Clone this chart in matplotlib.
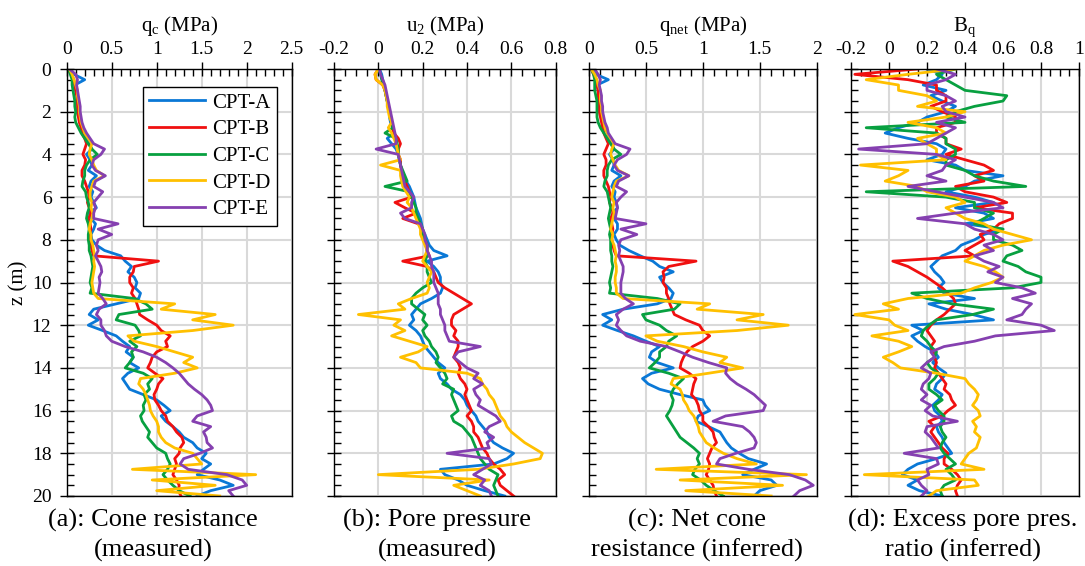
import matplotlib
matplotlib.use("Agg")
import matplotlib.pyplot as plt
from matplotlib.ticker import FixedLocator, MultipleLocator, FuncFormatter

plt.rcParams['font.family'] = ['Liberation Serif', 'DejaVu Serif']
plt.rcParams['mathtext.fontset'] = 'custom'
plt.rcParams['mathtext.rm'] = 'Liberation Serif'
plt.rcParams['mathtext.it'] = 'Liberation Serif:italic'
plt.rcParams['axes.unicode_minus'] = False

# depth of each reading (m), every 0.25 m
depth = [i * 0.25 for i in range(81)]

names = ['CPT-A', 'CPT-B', 'CPT-C', 'CPT-D', 'CPT-E']
colors = ['#0A78D6', '#F01010', '#08A040', '#FFC000', '#8540B0']

# (a) cone resistance qc (MPa), four readings per metre
qc_A = [0.02, 0.08, 0.20, 0.09, 0.10, 0.12, 0.11, 0.13, 0.12, 0.14, 0.15, 0.18, 0.20, 0.23, 0.25, 0.28,
        0.22, 0.26, 0.28, 0.24, 0.33, 0.27, 0.25, 0.29, 0.27, 0.30, 0.33, 0.25, 0.27, 0.32, 0.30, 0.27,
        0.28, 0.33, 0.42, 0.60, 0.65, 0.72, 0.68, 0.75, 0.78, 0.76, 0.82, 0.80, 0.55, 0.30, 0.25, 0.35,
        0.24, 0.40, 0.55, 0.62, 0.70, 0.66, 0.74, 0.70, 0.80, 0.68, 0.62, 0.66, 0.70, 0.85, 1.00, 1.08,
        1.15, 1.05, 1.10, 1.18, 1.25, 1.30, 1.40, 1.45, 1.55, 1.50, 1.60, 1.52, 1.45, 1.70, 1.85, 1.60,
        1.45]
qc_B = [0.02, 0.05, 0.08, 0.09, 0.10, 0.11, 0.12, 0.12, 0.12, 0.13, 0.14, 0.16, 0.17, 0.20, 0.22, 0.20,
        0.18, 0.21, 0.20, 0.17, 0.17, 0.20, 0.22, 0.24, 0.25, 0.23, 0.25, 0.27, 0.24, 0.26, 0.27, 0.25,
        0.26, 0.27, 0.28, 0.30, 1.02, 0.75, 0.74, 0.70, 0.70, 0.74, 0.72, 0.76, 0.78, 0.80, 0.81, 0.90,
        1.00, 1.05, 1.15, 1.10, 1.12, 1.00, 0.95, 0.93, 0.90, 0.98, 1.07, 1.02, 1.00, 0.97, 0.98, 1.02,
        1.05, 1.10, 1.12, 1.18, 1.22, 1.28, 1.30, 1.26, 1.25, 1.20, 1.22, 1.20, 1.18, 1.22, 1.25, 1.24,
        1.27]
qc_C = [0.02, 0.04, 0.06, 0.06, 0.07, 0.08, 0.09, 0.09, 0.10, 0.09, 0.10, 0.13, 0.16, 0.20, 0.24, 0.28,
        0.34, 0.26, 0.22, 0.20, 0.20, 0.18, 0.17, 0.21, 0.22, 0.24, 0.25, 0.23, 0.22, 0.24, 0.25, 0.24,
        0.24, 0.25, 0.25, 0.27, 0.28, 0.29, 0.28, 0.27, 0.26, 0.28, 0.26, 0.75, 0.88, 0.95, 0.58, 0.55,
        0.76, 0.80, 0.82, 0.70, 0.78, 0.72, 0.74, 0.70, 0.65, 0.85, 0.95, 0.90, 0.92, 0.86, 0.88, 0.85,
        0.86, 0.82, 0.84, 0.88, 0.92, 0.90, 0.95, 1.00, 1.10, 1.12, 1.15, 1.12, 1.07, 1.12, 1.18, 1.25,
        1.37]
qc_D = [0.03, 0.06, 0.08, 0.10, 0.12, 0.12, 0.13, 0.14, 0.14, 0.15, 0.16, 0.18, 0.20, 0.24, 0.28, 0.26,
        0.25, 0.28, 0.30, 0.33, 0.42, 0.30, 0.28, 0.26, 0.26, 0.28, 0.27, 0.29, 0.28, 0.26, 0.25, 0.27,
        0.27, 0.29, 0.30, 0.31, 0.30, 0.31, 0.30, 0.29, 0.28, 0.29, 0.30, 0.35, 1.20, 1.05, 1.65, 1.40,
        1.85, 1.40, 0.68, 0.75, 1.00, 1.20, 1.40, 1.30, 1.45, 1.20, 0.82, 0.80, 0.85, 0.88, 0.90, 0.92,
        0.93, 0.96, 1.00, 1.02, 1.02, 1.05, 1.10, 1.20, 1.40, 1.45, 1.50, 0.73, 2.10, 0.95, 1.65, 1.00,
        1.70]
qc_E = [0.03, 0.10, 0.12, 0.11, 0.12, 0.13, 0.14, 0.15, 0.15, 0.16, 0.17, 0.19, 0.22, 0.26, 0.30, 0.42,
        0.38, 0.30, 0.28, 0.32, 0.43, 0.32, 0.30, 0.40, 0.35, 0.30, 0.32, 0.30, 0.30, 0.57, 0.35, 0.50,
        0.35, 0.33, 0.35, 0.32, 0.35, 0.38, 0.39, 0.36, 0.37, 0.36, 0.35, 0.40, 0.44, 0.36, 0.33, 0.38,
        0.38, 0.42, 0.44, 0.50, 0.65, 0.85, 1.00, 1.10, 1.18, 1.25, 1.30, 1.35, 1.42, 1.50, 1.56, 1.60,
        1.62, 1.45, 1.40, 1.60, 1.52, 1.55, 1.56, 1.62, 1.48, 1.30, 1.26, 1.35, 1.78, 1.95, 2.00, 1.80,
        1.85]

# (b) pore pressure u2 (MPa)
u2_A = [0.005, 0.015, 0.02, 0.025, 0.03, 0.035, 0.04, 0.045, 0.05, 0.05, 0.055, 0.065, 0.07, 0.04, 0.06, 0.08,
        0.09, 0.095, 0.10, 0.105, 0.11, 0.125, 0.14, 0.15, 0.16, 0.165, 0.17, 0.18, 0.19, 0.195, 0.20, 0.21,
        0.22, 0.23, 0.25, 0.31, 0.22, 0.25, 0.27, 0.28, 0.28, 0.29, 0.28, 0.24, 0.19, 0.17, 0.15, 0.16,
        0.14, 0.17, 0.19, 0.20, 0.21, 0.23, 0.25, 0.27, 0.30, 0.27, 0.28, 0.31, 0.33, 0.37, 0.39, 0.40,
        0.42, 0.44, 0.45, 0.47, 0.49, 0.50, 0.52, 0.56, 0.61, 0.58, 0.52, 0.28, 0.30, 0.36, 0.40, 0.48,
        0.57]
u2_B = [0.0, -0.015, -0.01, 0.02, 0.03, 0.035, 0.04, 0.045, 0.05, 0.055, 0.06, 0.065, 0.07, 0.09, 0.10, 0.09,
        0.09, 0.10, 0.10, 0.105, 0.11, 0.12, 0.13, 0.14, 0.15, 0.075, 0.12, 0.17, 0.11, 0.18, 0.20, 0.20,
        0.21, 0.22, 0.22, 0.23, 0.11, 0.22, 0.25, 0.26, 0.27, 0.30, 0.34, 0.38, 0.42, 0.38, 0.34, 0.33,
        0.33, 0.35, 0.34, 0.36, 0.36, 0.35, 0.34, 0.36, 0.37, 0.36, 0.37, 0.39, 0.40, 0.39, 0.40, 0.41,
        0.42, 0.40, 0.42, 0.43, 0.43, 0.45, 0.46, 0.47, 0.49, 0.50, 0.52, 0.55, 0.57, 0.54, 0.55, 0.58,
        0.61]
u2_C = [0.0, 0.01, 0.015, 0.025, 0.03, 0.035, 0.04, 0.045, 0.05, 0.055, 0.06, 0.065, 0.03, 0.08, 0.085, 0.09,
        0.09, 0.095, 0.10, 0.11, 0.12, 0.13, 0.03, 0.14, 0.15, 0.16, 0.17, 0.17, 0.18, 0.19, 0.20, 0.20,
        0.21, 0.22, 0.22, 0.22, 0.21, 0.22, 0.22, 0.23, 0.24, 0.20, 0.17, 0.15, 0.15, 0.18, 0.21, 0.20,
        0.22, 0.20, 0.21, 0.23, 0.24, 0.26, 0.27, 0.26, 0.28, 0.30, 0.31, 0.29, 0.34, 0.33, 0.34, 0.35,
        0.36, 0.33, 0.34, 0.38, 0.40, 0.42, 0.43, 0.44, 0.45, 0.46, 0.48, 0.50, 0.54, 0.53, 0.52, 0.53,
        0.54]
u2_D = [0.0, -0.015, -0.01, 0.02, 0.03, 0.035, 0.04, 0.04, 0.045, 0.05, 0.06, 0.045, 0.06, 0.07, 0.08, 0.085,
        0.09, 0.10, 0.01, 0.10, 0.10, 0.105, 0.11, 0.125, 0.14, 0.13, 0.15, 0.16, 0.17, 0.18, 0.19, 0.19,
        0.20, 0.21, 0.22, 0.21, 0.20, 0.22, 0.24, 0.23, 0.22, 0.23, 0.22, 0.15, 0.09, 0.12, -0.09, 0.10,
        0.07, 0.12, 0.06, 0.14, 0.22, 0.18, 0.10, 0.17, 0.19, 0.40, 0.46, 0.47, 0.49, 0.50, 0.52, 0.53,
        0.54, 0.55, 0.57, 0.58, 0.60, 0.63, 0.66, 0.70, 0.74, 0.73, 0.61, 0.45, 0.00, 0.50, 0.34, 0.40,
        0.46]
u2_E = [0.005, 0.01, 0.02, 0.03, 0.035, 0.04, 0.045, 0.05, 0.055, 0.06, 0.065, 0.07, 0.075, 0.08, 0.08, -0.01,
        0.09, 0.095, 0.10, 0.105, 0.11, 0.115, 0.12, 0.14, 0.16, 0.15, 0.15, 0.10, 0.12, 0.19, 0.20, 0.21,
        0.21, 0.22, 0.22, 0.23, 0.24, 0.24, 0.25, 0.25, 0.25, 0.26, 0.27, 0.27, 0.27, 0.28, 0.28, 0.29,
        0.30, 0.30, 0.31, 0.32, 0.46, 0.36, 0.34, 0.37, 0.40, 0.45, 0.43, 0.47, 0.43, 0.44, 0.46, 0.45,
        0.49, 0.53, 0.55, 0.50, 0.48, 0.52, 0.49, 0.50, 0.31, 0.50, 0.51, 0.47, 0.43, 0.48, 0.46, 0.50,
        0.51]

# (c) net cone resistance qnet (MPa)
qn_A = [0.02, 0.06, 0.17, 0.07, 0.08, 0.09, 0.09, 0.10, 0.10, 0.11, 0.12, 0.14, 0.16, 0.18, 0.20, 0.22,
        0.18, 0.21, 0.22, 0.20, 0.28, 0.22, 0.20, 0.23, 0.22, 0.24, 0.25, 0.21, 0.22, 0.25, 0.25, 0.22,
        0.24, 0.27, 0.35, 0.45, 0.56, 0.62, 0.74, 0.62, 0.65, 0.70, 0.74, 0.72, 0.60, 0.30, 0.12, 0.20,
        0.12, 0.25, 0.39, 0.50, 0.62, 0.55, 0.53, 0.60, 0.74, 0.55, 0.47, 0.52, 0.62, 0.80, 1.00, 1.02,
        1.06, 0.96, 0.94, 1.05, 1.15, 1.18, 1.21, 1.25, 1.32, 1.40, 1.56, 1.45, 1.35, 1.60, 1.65, 1.50,
        1.45]
qn_B = [0.02, 0.04, 0.06, 0.07, 0.08, 0.08, 0.09, 0.09, 0.09, 0.10, 0.11, 0.12, 0.13, 0.15, 0.17, 0.15,
        0.13, 0.15, 0.15, 0.13, 0.13, 0.15, 0.17, 0.18, 0.19, 0.18, 0.20, 0.21, 0.19, 0.20, 0.21, 0.20,
        0.20, 0.21, 0.22, 0.24, 0.94, 0.70, 0.65, 0.66, 0.65, 0.68, 0.68, 0.70, 0.71, 0.73, 0.75, 0.85,
        0.97, 1.00, 1.06, 1.00, 0.91, 0.86, 0.83, 0.81, 0.80, 0.88, 0.94, 0.92, 0.91, 0.90, 0.94, 0.96,
        0.97, 1.00, 1.00, 1.05, 1.09, 1.10, 1.12, 1.08, 1.06, 1.04, 1.06, 1.05, 1.03, 1.06, 1.09, 1.10,
        1.12]
qn_C = [0.02, 0.04, 0.05, 0.05, 0.05, 0.06, 0.07, 0.07, 0.07, 0.07, 0.08, 0.10, 0.13, 0.16, 0.19, 0.22,
        0.28, 0.20, 0.17, 0.16, 0.16, 0.14, 0.13, 0.16, 0.17, 0.18, 0.19, 0.18, 0.17, 0.18, 0.19, 0.18,
        0.19, 0.19, 0.19, 0.20, 0.20, 0.21, 0.20, 0.19, 0.18, 0.19, 0.18, 0.60, 0.80, 0.75, 0.47, 0.50,
        0.62, 0.68, 0.77, 0.70, 0.68, 0.62, 0.62, 0.58, 0.53, 0.70, 0.83, 0.78, 0.74, 0.72, 0.74, 0.73,
        0.71, 0.68, 0.71, 0.74, 0.77, 0.80, 0.86, 0.92, 0.97, 0.95, 0.97, 0.93, 0.91, 0.98, 1.03, 1.10,
        1.18]
qn_D = [0.02, 0.05, 0.07, 0.08, 0.10, 0.10, 0.10, 0.11, 0.11, 0.12, 0.13, 0.14, 0.16, 0.19, 0.22, 0.20,
        0.19, 0.21, 0.23, 0.26, 0.35, 0.24, 0.22, 0.21, 0.20, 0.22, 0.21, 0.22, 0.21, 0.20, 0.19, 0.21,
        0.20, 0.22, 0.23, 0.24, 0.23, 0.24, 0.24, 0.23, 0.23, 0.24, 0.24, 0.30, 1.06, 0.95, 1.53, 1.30,
        1.75, 1.30, 0.50, 0.60, 0.83, 1.00, 1.21, 1.15, 1.35, 1.05, 0.74, 0.72, 0.80, 0.82, 0.83, 0.86,
        0.88, 0.92, 0.94, 0.96, 0.97, 1.00, 1.03, 1.10, 1.18, 1.30, 1.47, 0.59, 1.91, 0.80, 1.70, 0.85,
        1.60]
qn_E = [0.05, 0.08, 0.10, 0.09, 0.10, 0.11, 0.11, 0.12, 0.12, 0.13, 0.14, 0.16, 0.17, 0.20, 0.23, 0.36,
        0.33, 0.25, 0.22, 0.25, 0.35, 0.26, 0.24, 0.33, 0.28, 0.24, 0.25, 0.24, 0.23, 0.50, 0.28, 0.42,
        0.28, 0.26, 0.27, 0.26, 0.28, 0.30, 0.30, 0.29, 0.28, 0.28, 0.28, 0.32, 0.39, 0.30, 0.24, 0.26,
        0.24, 0.28, 0.33, 0.45, 0.68, 0.80, 0.91, 1.05, 1.21, 1.20, 1.24, 1.30, 1.38, 1.45, 1.50, 1.55,
        1.53, 1.20, 1.09, 1.35, 1.41, 1.45, 1.47, 1.45, 1.29, 1.15, 1.12, 1.40, 1.76, 1.90, 1.97, 1.85,
        1.80]

# (d) excess pore pressure ratio Bq
bq_A = [0.20, 0.28, 0.25, 0.18, 0.30, 0.22, 0.28, 0.35, 0.30, 0.20, 0.15, 0.05, -0.02, 0.10, 0.25, 0.30,
        0.28, 0.20, 0.35, 0.40, 0.60, 0.45, 0.40, 0.30, 0.45, 0.55, 0.35, 0.50, 0.55, 0.40, 0.60, 0.50,
        0.45, 0.38, 0.35, 0.28, 0.25, 0.22, 0.24, 0.27, 0.29, 0.26, 0.29, 0.45, 0.21, 0.30, 0.44, 0.55,
        0.12, 0.18, 0.12, 0.15, 0.19, 0.24, 0.26, 0.23, 0.26, 0.30, 0.28, 0.25, 0.24, 0.28, 0.26, 0.23,
        0.24, 0.27, 0.28, 0.25, 0.26, 0.28, 0.29, 0.31, 0.33, 0.25, 0.15, 0.10, 0.07, 0.15, 0.10, 0.16,
        0.28]
bq_B = [0.15, -0.18, 0.10, 0.25, 0.25, 0.30, 0.30, 0.22, 0.28, 0.35, 0.35, 0.25, 0.25, 0.30, 0.30, 0.38,
        0.30, 0.40, 0.50, 0.55, 0.45, 0.50, 0.35, 0.40, 0.55, 0.62, 0.45, 0.65, 0.65, 0.58, 0.55, 0.48,
        0.50, 0.45, 0.40, 0.45, 0.02, 0.10, 0.15, 0.20, 0.24, 0.28, 0.31, 0.34, 0.35, 0.32, 0.29, 0.25,
        0.22, 0.20, 0.22, 0.24, 0.22, 0.23, 0.24, 0.25, 0.24, 0.26, 0.28, 0.30, 0.29, 0.32, 0.33, 0.35,
        0.31, 0.28, 0.21, 0.24, 0.22, 0.24, 0.26, 0.28, 0.31, 0.29, 0.29, 0.33, 0.36, 0.38, 0.36, 0.35,
        0.36]
bq_C = [0.35, 0.25, 0.30, 0.35, 0.40, 0.62, 0.60, 0.45, 0.35, 0.30, 0.40, -0.12, 0.25, 0.30, 0.30, 0.35,
        0.35, 0.30, 0.30, 0.40, 0.45, 0.55, 0.72, -0.12, 0.30, 0.45, 0.45, 0.55, 0.50, 0.45, 0.60, 0.55,
        0.55, 0.65, 0.70, 0.62, 0.60, 0.68, 0.72, 0.80, 0.80, 0.65, 0.12, 0.20, 0.33, 0.55, 0.44, 0.25,
        0.21, 0.18, 0.17, 0.20, 0.22, 0.25, 0.24, 0.20, 0.22, 0.26, 0.24, 0.21, 0.21, 0.25, 0.28, 0.24,
        0.26, 0.29, 0.29, 0.27, 0.28, 0.30, 0.28, 0.27, 0.29, 0.32, 0.35, 0.30, 0.33, 0.35, 0.29, 0.27,
        0.28]
bq_D = [0.35, 0.10, -0.12, 0.05, 0.05, 0.20, 0.25, 0.15, 0.40, 0.30, 0.10, 0.25, 0.30, 0.15, 0.20, 0.25,
        0.25, 0.30, -0.15, 0.10, 0.05, -0.02, 0.15, 0.20, 0.35, 0.40, 0.30, 0.35, 0.40, 0.50, 0.55, 0.65,
        0.75, 0.60, 0.50, 0.45, 0.40, 0.50, 0.56, 0.60, 0.54, 0.45, 0.38, 0.10, -0.03, 0.05, -0.18, 0.00,
        0.03, 0.10, -0.09, 0.05, 0.12, 0.05, -0.03, 0.02, 0.06, 0.25, 0.40, 0.42, 0.45, 0.47, 0.46, 0.44,
        0.47, 0.48, 0.44, 0.46, 0.45, 0.48, 0.47, 0.46, 0.42, 0.40, 0.38, 0.50, -0.13, 0.45, 0.47, 0.25,
        0.21]
bq_E = [0.25, 0.35, 0.30, 0.20, 0.20, 0.30, 0.35, 0.28, 0.30, 0.40, 0.25, 0.35, 0.30, 0.25, 0.20, -0.16,
        0.25, 0.35, 0.30, 0.28, 0.20, 0.30, 0.10, 0.25, 0.40, 0.55, 0.60, 0.35, 0.15, 0.40, 0.45, 0.55,
        0.60, 0.50, 0.55, 0.45, 0.50, 0.58, 0.52, 0.60, 0.56, 0.70, 0.77, 0.65, 0.75, 0.72, 0.70, 0.62,
        0.80, 0.87, 0.56, 0.45, 0.29, 0.22, 0.24, 0.20, 0.17, 0.22, 0.21, 0.18, 0.17, 0.20, 0.17, 0.22,
        0.19, 0.23, 0.36, 0.20, 0.19, 0.22, 0.24, 0.26, 0.08, 0.25, 0.26, 0.20, 0.21, 0.15, 0.17, 0.20,
        0.17]

panels = [
    ([qc_A, qc_B, qc_C, qc_D, qc_E], r'q$_{\mathrm{c}}$ (MPa)', (0, 2.5), [0, 0.5, 1, 1.5, 2, 2.5], 0.1,
     '(a): Cone resistance\n(measured)', 153),
    ([u2_A, u2_B, u2_C, u2_D, u2_E], r'u$_{2}$ (MPa)', (-0.2, 0.8), [-0.2, 0, 0.2, 0.4, 0.6, 0.8], 0.05,
     '(b): Pore pressure\n(measured)', 437),
    ([qn_A, qn_B, qn_C, qn_D, qn_E], r'q$_{\mathrm{net}}$ (MPa)', (0, 2), [0, 0.5, 1, 1.5, 2], 0.1,
     '(c): Net cone\nresistance (inferred)', 697),
    ([bq_A, bq_B, bq_C, bq_D, bq_E], r'B$_{\mathrm{q}}$', (-0.2, 1), [-0.2, 0, 0.2, 0.4, 0.6, 0.8, 1], 0.05,
     '(d): Excess pore pres.\nratio (inferred)', 963),
]
lefts = [66.7, 334, 589, 851]
widths = [225, 221.7, 227.7, 228]

fig = plt.figure(figsize=(10.85, 5.66), dpi=100)
W, H = 1085, 566

for i, (series, xlabel, xlim, xticks, xminor, caption, cx) in enumerate(panels):
    ax = fig.add_axes([lefts[i] / W, 1 - 496 / H, widths[i] / W, 427 / H])
    for s, name, c in zip(series, names, colors):
        ax.plot(s, depth, color=c, lw=2.0, label=name)
    ax.set_xlim(*xlim)
    ax.set_ylim(20, 0)
    ax.xaxis.tick_top()
    ax.xaxis.set_label_position('top')
    ax.xaxis.set_major_locator(FixedLocator(xticks))
    ax.xaxis.set_minor_locator(MultipleLocator(xminor))
    ax.xaxis.set_major_formatter(FuncFormatter(lambda v, p: '%g' % round(v, 3)))
    ax.yaxis.set_major_locator(MultipleLocator(2))
    ax.yaxis.set_minor_locator(MultipleLocator(0.5))
    ax.grid(True, which='major', color='#d9d9d9', lw=1.5)
    ax.set_axisbelow(True)
    ax.tick_params(which='major', direction='inout', length=10, width=1, labelsize=14, pad=3)
    ax.tick_params(which='minor', direction='in', length=5, width=1)
    ax.tick_params(axis='y', pad=6)
    for sp in ax.spines.values():
        sp.set_color('black')
        sp.set_linewidth(1)
    ax.set_xlabel(xlabel, fontsize=15, labelpad=7)
    if i == 0:
        ax.set_ylabel('z (m)', fontsize=15, labelpad=2)
        leg = ax.legend(loc='upper right', bbox_to_anchor=(0.935, 0.958), borderaxespad=0, fontsize=15,
                        frameon=True, fancybox=False, edgecolor='black', framealpha=1, handlelength=2.7,
                        handletextpad=0.35, labelspacing=0.34, borderpad=0.3)
        leg.get_frame().set_linewidth(1)
    else:
        ax.tick_params(axis='y', labelleft=False)
    fig.text(cx / W, 1 - 509 / H, caption, ha='center', va='top', fontsize=19, linespacing=1.38)

fig.savefig('out.png', dpi=100)
